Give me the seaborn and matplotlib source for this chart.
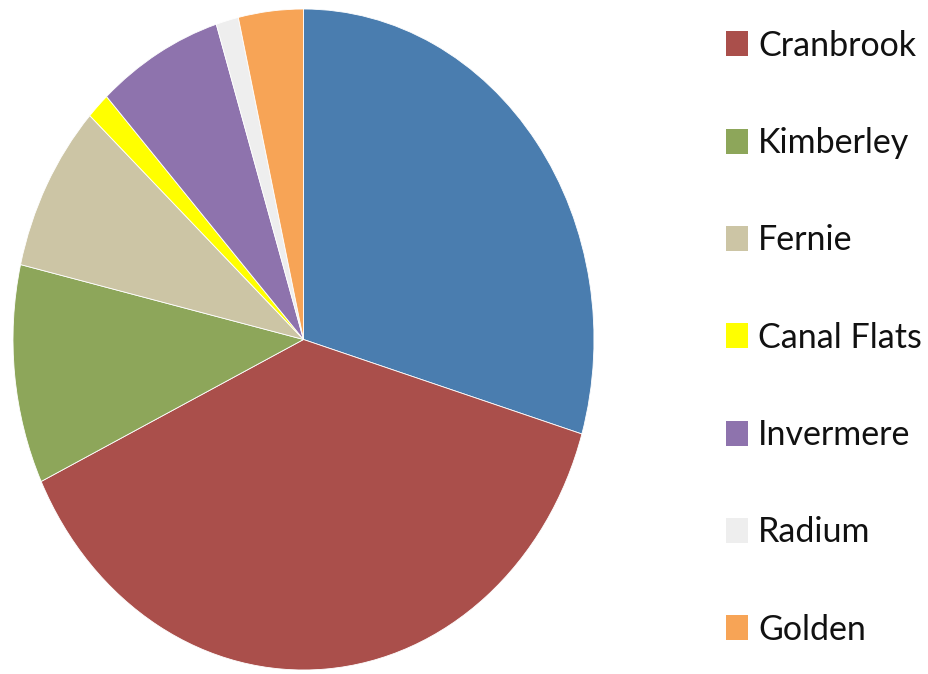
import matplotlib
matplotlib.use("Agg")
import matplotlib.pyplot as plt
import seaborn as sns
from matplotlib.patches import Patch

categories = ["", "Cranbrook", "Kimberley", "Fernie", "Canal Flats", "Invermere", "Radium", "Golden"]
values = [29.6, 38.3, 10.7, 8.2, 1.3, 7.0, 1.25, 3.6]
colors = ["#4A7DAF", "#AA4F4B", "#8DA65A", "#CCC5A5", "#FFFF00", "#8E73AD", "#EEEEEE", "#F7A456"]

sns.set_theme(style="white")
plt.rcParams["font.family"] = ["Lato", "DejaVu Sans"]

fig = plt.figure(figsize=(9.29, 6.74), dpi=100)
ax = fig.add_axes([13 / 929, 4 / 674, 581 / 929, 661 / 674])
ax.pie(values, colors=colors, startangle=90, counterclock=False,
       wedgeprops=dict(linewidth=0.6, edgecolor="white"), radius=1)
ax.set_aspect("auto")
ax.set_xlim(-1, 1)
ax.set_ylim(-1, 1)
ax.axis("off")

handles = [Patch(facecolor=c, edgecolor="none") for c in colors[1:]]
leg = fig.legend(handles, categories[1:], loc="center left",
                 bbox_to_anchor=(726 / 929, 0.499), frameon=False,
                 fontsize=24.5, labelspacing=1.92, handlelength=0.65, handleheight=0.75,
                 handletextpad=0.3, borderaxespad=0, borderpad=0)
for t in leg.get_texts():
    t.set_color("#111111")

fig.savefig("out.png", dpi=100)
